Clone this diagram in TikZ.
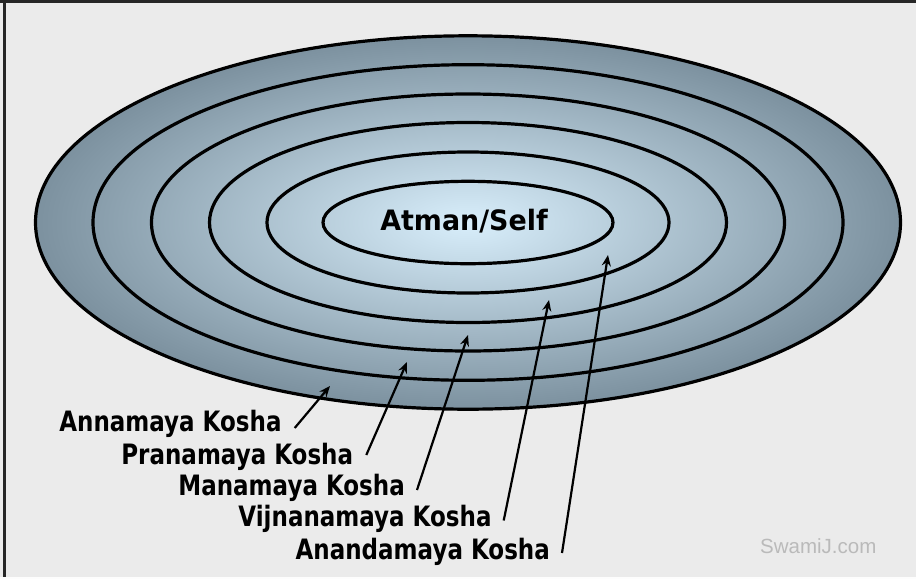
\documentclass[tikz,border=0pt]{standalone}
\usepackage{fontspec}
\usepackage{graphicx}
\setmainfont{DejaVu Sans}
\newfontfamily\wmfont{Liberation Sans}
\usetikzlibrary{arrows.meta,calc}
\definecolor{bgc}{RGB}{235,235,235}
\definecolor{kin}{RGB}{216,238,251}
\definecolor{kout}{RGB}{124,145,159}
\definecolor{wmc}{RGB}{186,186,186}
\newcommand{\tallt}[1]{\scalebox{1}[1.22]{#1}}
\begin{document}
\begin{tikzpicture}[x=1pt,y=-1pt,
  lbl/.style={font=\bfseries\fontsize{23}{23}\selectfont, inner sep=0pt, anchor=base east},
  ring/.style={draw=black, line width=3.2pt},
  arr/.style={-{Stealth[length=11pt,width=9pt]}, line width=2.2pt, draw=black}]
\useasboundingbox (0,0) rectangle (916,579);
\fill[bgc] (0,0) rectangle (916,579);
% frame
\fill[black!85] (0,0) rectangle (916,2.5);
\fill[black!85] (3,0) rectangle (5.5,579);
\fill[white!90!bgc] (0,577) rectangle (916,579);
% koshas
\coordinate (c) at (468,222.5);
\shade[inner color=kin, outer color=kout] (c) ellipse [x radius=432.5pt, y radius=186.7pt];
\draw[ring] (c) ellipse [x radius=432.5pt, y radius=186.7pt];
\draw[ring] (c) ellipse [x radius=375pt, y radius=157.8pt];
\draw[ring] (c) ellipse [x radius=316.5pt, y radius=128.5pt];
\draw[ring] (c) ellipse [x radius=258.5pt, y radius=100pt];
\draw[ring] (c) ellipse [x radius=201pt, y radius=70.5pt];
\draw[ring] (c) ellipse [x radius=145pt, y radius=41.2pt];
\node[font=\bfseries\fontsize{23}{23}\selectfont, inner sep=0pt, anchor=base] (atman) at (464,230.7) {\scalebox{1.17}[1.22]{Atman/Self}};
% labels
\node[lbl] (l1) at (281.7,431) {\tallt{Annamaya Kosha}};
\node[lbl] (l2) at (353.3,464) {\tallt{Pranamaya Kosha}};
\node[lbl] (l3) at (405,495) {\tallt{Manamaya Kosha}};
\node[lbl] (l4) at (491.7,526.5) {\tallt{Vijnanamaya Kosha}};
\node[lbl] (l5) at (550,559) {\tallt{Anandamaya Kosha}};
% arrow tips
\coordinate (t1) at (330,386);
\coordinate (t2) at (407,362);
\coordinate (t3) at (468,335);
\coordinate (t4) at (549,300);
\coordinate (t5) at (608,255);
% arrow starts
\coordinate (s1) at ([shift={(13,-3)}]l1.base east);
\coordinate (s2) at ([shift={(13,-9)}]l2.base east);
\coordinate (s3) at ([shift={(12,-5)}]l3.base east);
\coordinate (s4) at ([shift={(12,-6)}]l4.base east);
\coordinate (s5) at ([shift={(12,-6)}]l5.base east);
\draw[arr] (s1) -- (t1);
\draw[arr] (s2) -- (t2);
\draw[arr] (s3) -- (t3);
\draw[arr] (s4) -- (t4);
\draw[arr] (s5) -- (t5);
% watermark
\node[font=\wmfont\fontsize{20.5}{20.5}\selectfont, text=wmc, inner sep=0pt, anchor=base west] (wm) at (760,553) {SwamiJ.com};
\end{tikzpicture}
\end{document}
